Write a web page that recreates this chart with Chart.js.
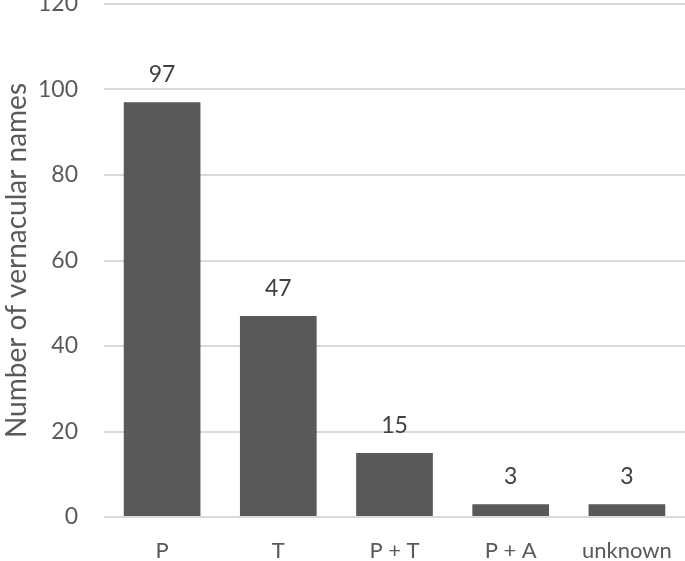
<!DOCTYPE html>
<html>
<head>
<meta charset="utf-8">
<script src="https://cdn.jsdelivr.net/npm/chart.js@4"></script>
<style>
  html, body { margin: 0; padding: 0; background: #fff; }
  #wrap { width: 685px; height: 561px; }
</style>
</head>
<body>
<div id="wrap"><canvas id="chart"></canvas></div>
<script>
const categories = ["P", "T", "P + T", "P + A", "unknown"];
const counts = [97, 47, 15, 3, 3];
const yTicks = [0, 20, 40, 60, 80, 100, 120];

const fontFamily = "Lato, 'Open Sans', sans-serif";

// draws the value above every bar
const valueLabels = {
  id: "valueLabels",
  afterDatasetsDraw(chart) {
    const ctx = chart.ctx;
    const meta = chart.getDatasetMeta(0);
    ctx.save();
    ctx.font = "23px " + fontFamily;
    ctx.fillStyle = "#404040";
    ctx.textAlign = "center";
    ctx.textBaseline = "bottom";
    meta.data.forEach((bar, i) => {
      ctx.fillText(String(counts[i]), bar.x, bar.y - 16);
    });
    ctx.restore();
  }
};

new Chart(document.getElementById("chart"), {
  type: "bar",
  data: {
    labels: categories,
    datasets: [
      {
        data: counts,
        backgroundColor: "#595959",
        borderWidth: 0,
        barPercentage: 0.66,
        categoryPercentage: 1,
      },
    ],
  },
  options: {
    responsive: true,
    maintainAspectRatio: false,
    animation: false,
    layout: { padding: { top: 4, right: 0, bottom: 0, left: 0 } },
    plugins: {
      legend: { display: false },
      tooltip: { enabled: false },
    },
    scales: {
      x: {
        grid: { display: false },
        border: { display: false },
        ticks: {
          color: "#595959",
          font: { family: fontFamily, size: 22 },
          padding: 13,
          maxRotation: 0,
        },
        afterFit(scale) {
          scale.height = 44;
          scale.paddingLeft = 0;
          scale.paddingRight = 0;
        },
      },
      y: {
        min: 0,
        max: 120,
        afterBuildTicks(scale) {
          scale.ticks = yTicks.map((v) => ({ value: v }));
        },
        grid: {
          color: "#d9d9d9",
          lineWidth: 2,
          drawTicks: false,
        },
        border: { display: false },
        ticks: {
          color: "#595959",
          font: { family: fontFamily, size: 23 },
          padding: 26,
        },
        title: {
          display: true,
          text: "Number of vernacular names",
          color: "#595959",
          font: { family: fontFamily, size: 28 },
          padding: 0,
        },
        afterFit(scale) {
          scale.width = 104;
          scale.paddingTop = 0;
          scale.paddingBottom = 0;
        },
      },
    },
  },
  plugins: [valueLabels],
});
</script>
</body>
</html>
